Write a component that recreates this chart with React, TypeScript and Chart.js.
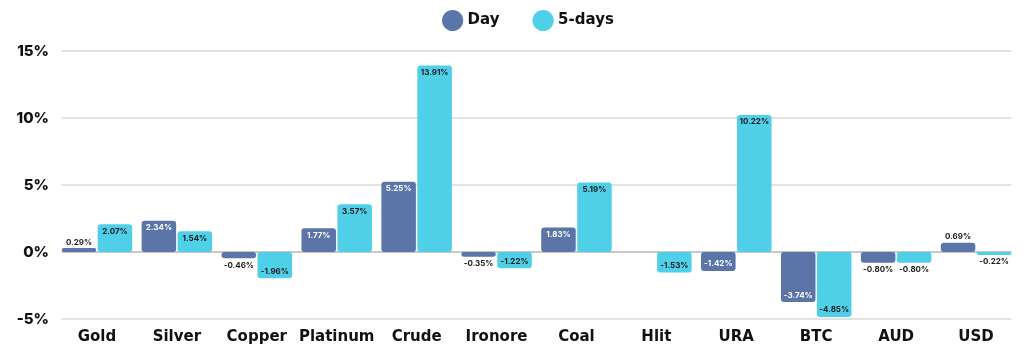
import React, { useEffect, useRef } from "react";
import { Chart, registerables } from "chart.js";

Chart.register(...registerables);

const categories = ["Gold", "Silver", "Copper", "Platinum", "Crude", "Ironore", "Coal", "Hlit", "URA", "BTC", "AUD", "USD"];
const dayValues = [0.29, 2.34, -0.46, 1.77, 5.25, -0.35, 1.83, null, -1.42, -3.74, -0.8, 0.69];
const fiveDayValues = [2.07, 1.54, -1.96, 3.57, 13.91, -1.22, 5.19, -1.53, 10.22, -4.85, -0.8, -0.22];
const yTicks = [-5, 0, 5, 10, 15];
const seriesNames = ["Day", "5-days"];

const FONT = "Inter, 'Noto Sans', sans-serif";
const WIDE = "'DejaVu Sans', sans-serif";
const DAY_COLOR = "#5b75a9";
const FIVE_COLOR = "#4fcfe8";

const gridPlugin = {
  id: "customGrid",
  afterLayout(chart: any) {
    if (chart.legend) {
      chart.legend.left -= 7;
      chart.legend.right -= 7;
    }
  },
  beforeDatasetsDraw(chart: any) {
    const { ctx, chartArea } = chart;
    const y = chart.scales.y;
    ctx.save();
    yTicks.forEach((v) => {
      const py = y.getPixelForValue(v);
      ctx.strokeStyle = v === 0 ? "#b5b5b5" : "#dadada";
      ctx.lineWidth = 1.6;
      ctx.beginPath();
      ctx.moveTo(chartArea.left + 4.5, py);
      ctx.lineTo(chartArea.right - 4.5, py);
      ctx.stroke();
    });
    ctx.restore();
  },
};

const labelPlugin = {
  id: "barLabels",
  afterDatasetsDraw(chart: any) {
    const ctx = chart.ctx;
    ctx.save();
    ctx.font = `700 8px ${FONT}`;
    ctx.textAlign = "center";
    ctx.textBaseline = "middle";
    chart.data.datasets.forEach((ds: any, di: number) => {
      const meta = chart.getDatasetMeta(di);
      meta.data.forEach((bar: any, i: number) => {
        const v = ds.data[i];
        if (v === null || v === undefined) return;
        const h = Math.abs(bar.base - bar.y);
        const txt = v.toFixed(2) + "%";
        const inside = h >= 14;
        let y: number;
        if (v >= 0) {
          y = inside ? bar.y + 7 : bar.y - 6;
        } else {
          y = inside ? bar.y - 7 : bar.y + 7;
        }
        ctx.fillStyle = inside && di === 0 ? "#ffffff" : "#1a1a1a";
        ctx.fillText(txt, bar.x, y);
      });
    });
    ctx.restore();
  },
};

export default function App() {
  const ref = useRef<HTMLCanvasElement>(null);
  useEffect(() => {
    document.body.style.margin = "0";
    const chart = new Chart(ref.current as HTMLCanvasElement, {
      type: "bar",
      data: {
        labels: categories,
        datasets: [
          {
            label: seriesNames[0],
            data: dayValues as any,
            backgroundColor: DAY_COLOR,
            borderRadius: 3,
            borderSkipped: false,
            categoryPercentage: 0.9,
            barPercentage: 0.96,
          },
          {
            label: seriesNames[1],
            data: fiveDayValues,
            backgroundColor: FIVE_COLOR,
            borderRadius: 3,
            borderSkipped: false,
            categoryPercentage: 0.9,
            barPercentage: 0.96,
          },
        ],
      },
      options: {
        animation: false,
        responsive: false,
        maintainAspectRatio: false,
        layout: { padding: { left: 8, right: 8, top: 3, bottom: 6 } },
        plugins: {
          tooltip: { enabled: false },
          title: {
            display: true,
            text: "",
            weight: 500,
            padding: 0,
            font: { size: 13, lineHeight: 1 },
          } as any,
          legend: {
            position: "top",
            fullSize: false,
            labels: {
              usePointStyle: true,
              pointStyle: "circle",
              boxHeight: 16,
              padding: 10,
              color: "#111",
              font: { family: WIDE, size: 15, weight: "bold" },
              generateLabels: (c: any) => {
                const items = Chart.defaults.plugins.legend.labels.generateLabels(c);
                items.forEach((it: any, i: number) => {
                  if (i === 0) it.text = it.text + "     ";
                });
                return items;
              },
            },
          },
        },
        scales: {
          x: {
            grid: { display: false, drawTicks: false },
            border: { display: false },
            ticks: {
              color: "#111",
              padding: 9,
              maxRotation: 0,
              minRotation: 0,
              autoSkip: false,
              font: { family: WIDE, size: 15, weight: "bold" },
            },
          },
          y: {
            min: -5,
            max: 15,
            afterBuildTicks: (scale: any) => {
              scale.ticks = yTicks.map((v) => ({ value: v }));
            },
            afterFit: (scale: any) => {
              scale.width = 49;
            },
            border: { display: false },
            grid: { display: false, drawTicks: false },
            ticks: {
              color: "#111",
              padding: 8,
              callback: (v: any) => v + "%",
              font: { family: FONT, size: 15, weight: 800 },
            },
          },
        },
      },
      plugins: [gridPlugin, labelPlugin],
    });
    return () => chart.destroy();
  }, []);
  return (
    <div style={{ position: "fixed", left: 0, top: 0, width: 1024, height: 361 }}>
      <canvas ref={ref} width={1024} height={361} style={{ width: 1024, height: 361 }} />
    </div>
  );
}
